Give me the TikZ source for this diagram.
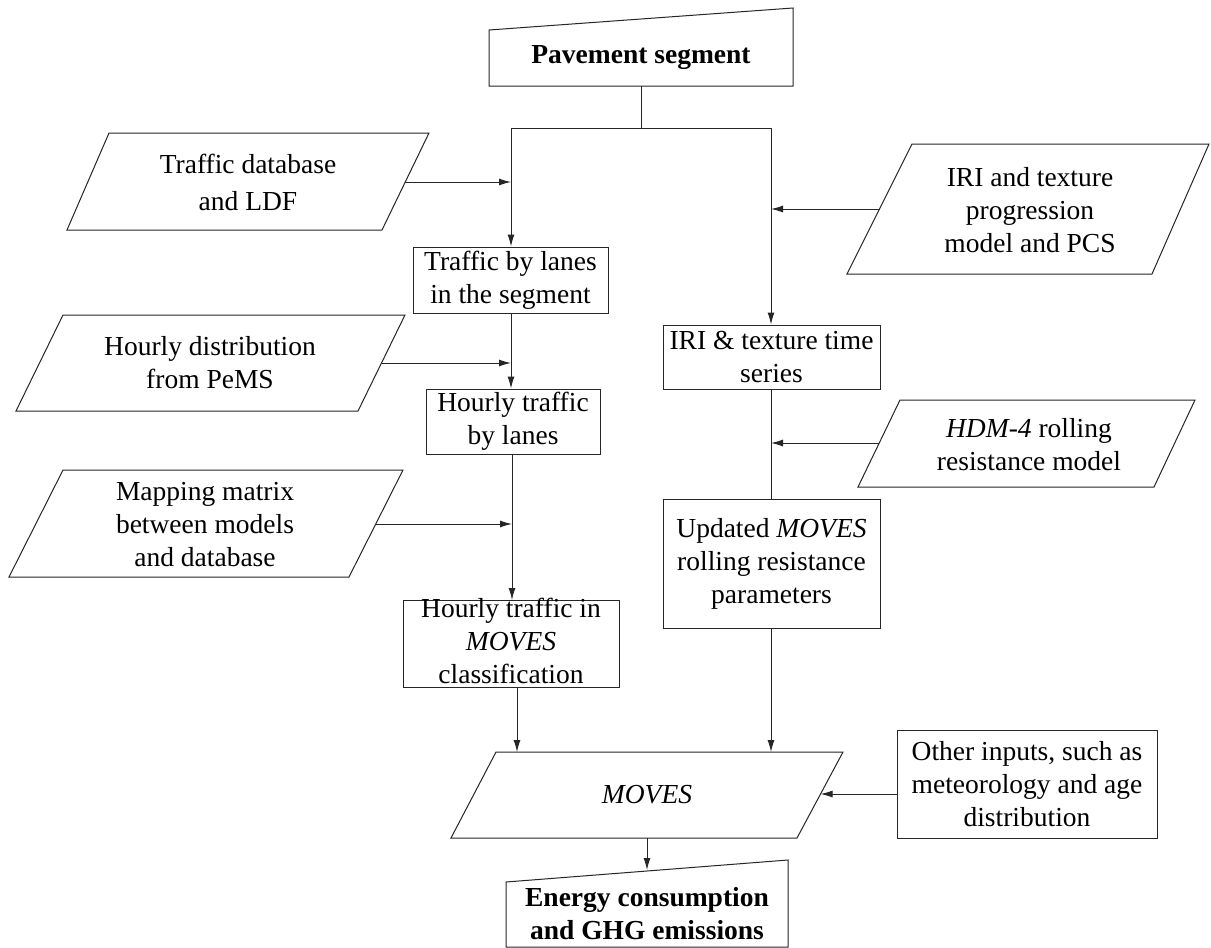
\documentclass[tikz,border=0pt]{standalone}
\usepackage{fontspec}
\setmainfont{Liberation Serif}
\usetikzlibrary{arrows.meta}
\begin{document}
\begin{tikzpicture}[x=1pt,y=-1pt,
  shp/.style={draw=black!85,line width=1pt,line join=miter},
  conn/.style={draw=black!85,line width=1pt},
  arr/.style={conn,-{Latex[length=12pt,width=7pt]}},
  txt/.style={align=center,inner sep=0pt,font=\fontsize{27.5}{33}\selectfont},
  boxtxt/.style={txt,draw=black!85,line width=1pt,minimum width=#1},
]
\useasboundingbox (0,0) rectangle (1211,948);
\fill[white] (0,0) rectangle (1211,948);

% ---------- shapes (drawn from named corner coordinates) ----------
% Pavement segment (manual input)
\coordinate (pv1) at (489,30); \coordinate (pv2) at (793,8);
\coordinate (pv3) at (793,86); \coordinate (pv4) at (489,86);
\draw[shp] (pv1) -- (pv2) -- (pv3) -- (pv4) -- cycle;
\node[txt,font=\fontsize{27.5}{33}\selectfont\bfseries] (pave) at (641,58) {Pavement segment};

% Traffic database parallelogram
\coordinate (td1) at (109,133); \coordinate (td2) at (429,133);
\coordinate (td3) at (382,230); \coordinate (td4) at (67,230);
\draw[shp] (td1) -- (td2) -- (td3) -- (td4) -- cycle;
\node[txt,font=\fontsize{27.5}{37}\selectfont] (tdb) at (248,182) {Traffic database\\and LDF};

% Hourly distribution parallelogram
\coordinate (hd1) at (63,315); \coordinate (hd2) at (405,315);
\coordinate (hd3) at (358,411); \coordinate (hd4) at (16,411);
\draw[shp] (hd1) -- (hd2) -- (hd3) -- (hd4) -- cycle;
\node[txt] (hdist) at (210,363) {Hourly distribution\\from PeMS};

% Mapping matrix parallelogram
\coordinate (mm1) at (63,470); \coordinate (mm2) at (403,470);
\coordinate (mm3) at (349,577); \coordinate (mm4) at (9,577);
\draw[shp] (mm1) -- (mm2) -- (mm3) -- (mm4) -- cycle;
\node[txt] (mmat) at (205,525) {Mapping matrix\\between models\\and database};

% IRI progression parallelogram
\coordinate (ip1) at (912,144); \coordinate (ip2) at (1209,144);
\coordinate (ip3) at (1152,274); \coordinate (ip4) at (847,274);
\draw[shp] (ip1) -- (ip2) -- (ip3) -- (ip4) -- cycle;
\node[txt] (iriprog) at (1030,210) {IRI and texture\\progression\\model and PCS};

% HDM-4 parallelogram
\coordinate (hm1) at (900,400); \coordinate (hm2) at (1195,400);
\coordinate (hm3) at (1154,487); \coordinate (hm4) at (858,487);
\draw[shp] (hm1) -- (hm2) -- (hm3) -- (hm4) -- cycle;
\node[txt] (hdm) at (1029,445) {\textit{HDM-4} rolling\\resistance model};

% MOVES parallelogram
\coordinate (mv1) at (496,752); \coordinate (mv2) at (843,752);
\coordinate (mv3) at (797,838); \coordinate (mv4) at (451,838);
\draw[shp] (mv1) -- (mv2) -- (mv3) -- (mv4) -- cycle;
\node[txt] (moves) at (647,795) {\textit{MOVES}};

% Energy (manual input)
\coordinate (en1) at (506,882); \coordinate (en2) at (788,860);
\coordinate (en3) at (788,947); \coordinate (en4) at (506,947);
\draw[shp] (en1) -- (en2) -- (en3) -- (en4) -- cycle;
\node[txt,font=\fontsize{27.5}{33}\selectfont\bfseries] (energy) at (647,914) {Energy consumption\\and GHG emissions};

% ---------- rectangular boxes ----------
\node[boxtxt=195pt,minimum height=66pt] (tbl) at (510.5,280) {Traffic by lanes\\in the segment};
\node[boxtxt=174pt,minimum height=65pt] (htl) at (513,421.5) {Hourly traffic\\by lanes};
\node[boxtxt=216pt,minimum height=87pt,anchor=north] (hmc) at (511,600) {};
\node[txt] (hmctxt) at (511,641) {Hourly traffic in\\\textit{MOVES}\\classification};
\node[boxtxt=217pt,minimum height=64pt] (iribox) at (771.5,357) {IRI \& texture time\\series};
\node[boxtxt=217pt,minimum height=129pt] (upd) at (771.5,563.5) {Updated \textit{MOVES}\\rolling resistance\\parameters};
\node[boxtxt=260pt,minimum height=108pt] (other) at (1027,784) {Other inputs, such as\\meteorology and age\\distribution};

% ---------- connectors ----------
\coordinate (pvB) at (641,86);
\coordinate (split) at (641,128);
\coordinate (splitL) at (511,128);
\coordinate (splitR) at (771,128);
\draw[conn] (pvB) -- (split);
\draw[conn] (splitL) -- (splitR);
\draw[arr] (splitL) -- (splitL |- tbl.north);
\draw[arr] (splitR) -- (splitR |- iribox.north);

\coordinate (tdE) at (405,182);
\draw[arr] (tdE) -- (tdE -| splitL);
\coordinate (ipW) at (879.5,209);
\draw[arr] (ipW) -- (ipW -| splitR);

\coordinate (tblS) at (511,313);
\draw[arr] (tblS) -- (tblS |- htl.north);
\coordinate (hdE) at (381.5,363);
\draw[arr] (hdE) -- (hdE -| tblS);

\coordinate (htlS) at (512,454);
\draw[arr] (htlS) -- (htlS |- hmc.north);
\coordinate (mmE) at (375.5,524);
\draw[arr] (mmE) -- (mmE -| htlS);

\coordinate (iriS) at (771,389);
\draw[conn] (iriS) -- (iriS |- upd.north);
\coordinate (hmW) at (879,443);
\draw[arr] (hmW) -- (hmW -| iriS);

\coordinate (hmcS) at (517,687);
\draw[arr] (hmcS) -- (hmcS |- mv1);
\coordinate (updS) at (771,628);
\draw[arr] (updS) -- (updS |- mv1);

\coordinate (mvE) at (820.5,794);
\draw[arr] (other.west |- mvE) -- (mvE);

\coordinate (mvS) at (647,838);
\coordinate (enN) at (647,870);
\draw[arr] (mvS) -- (enN);
\end{tikzpicture}
\end{document}
